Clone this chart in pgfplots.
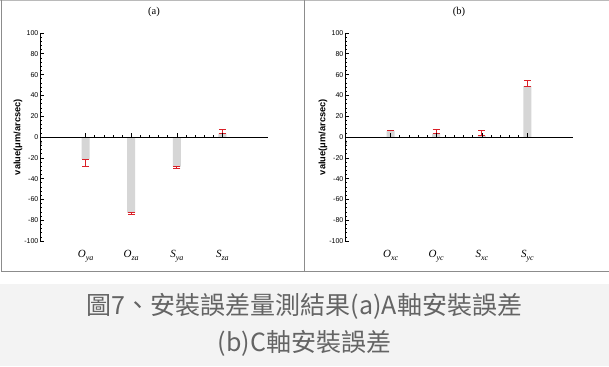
\documentclass[border=0pt]{standalone}
\usepackage{pgfplots}
\usepackage{pgfplotstable}
\pgfplotsset{compat=1.18}
\usepackage{fontspec}
\setmainfont{Liberation Sans}
\newfontfamily\seriffont{Liberation Serif}
\newfontfamily\cjk{Noto Sans CJK TC}
\definecolor{bargray}{RGB}{214,214,214}
\definecolor{errred}{RGB}{218,32,40}
\definecolor{framegray}{RGB}{140,140,140}
\definecolor{capbg}{RGB}{243,243,243}
\definecolor{captext}{RGB}{100,100,100}

\newcommand{\cat}[2]{{\seriffont\itshape #1\raisebox{-2.2pt}{\fontsize{8}{9}\selectfont #2}}}

\pgfplotstableread{
x v ep em
1 -21.3 0 6.8
2 -72.6 0 1.9
3 -28.4 0 2.2
4 3.2 3.6 0
}\dataA
\pgfplotstableread{
x v ep em
1 5.8 0.9 0
2 2.9 4.2 0
3 1.3 4.5 0
4 49.0 5.8 0
}\dataB

\pgfplotsset{
  panel/.style={
    scale only axis, width=228pt, height=208pt,
    anchor=south west,
    xmin=0, xmax=5, ymin=-100, ymax=100,
    axis x line=middle, axis y line=left,
    axis line style={-, black, line width=1pt},
    axis on top,
    xtick={1,2,3,4}, minor x tick num=4,
    ytick={-100,-80,...,100}, minor y tick num=4,
    tick align=inside,
    major tick length=4pt, minor tick length=2pt,
    every tick/.style={black, line width=0.6pt},
    /pgf/number format/assume math mode=true,
    yticklabel style={font=\fontsize{7}{8}\selectfont, inner sep=1.5pt},
    xticklabel style={font=\fontsize{11}{12}\selectfont, yshift=-110pt},
    ylabel={\textbf{value(μm/arcsec)}},
    every axis y label/.style={at={(axis description cs:0,0.5)}, xshift=-22pt, rotate=90, anchor=center, font=\fontsize{9.3}{11}\selectfont},
    every axis title/.style={at={(axis description cs:0.5,1)}, yshift=21pt, anchor=center, font=\seriffont\fontsize{10.5}{12}\selectfont},
  },
  barplot/.style={
    ybar, bar width=8pt, bar shift=0pt, fill=bargray, draw=none,
    error bars/.cd, y dir=both, y explicit,
    error bar style={errred, line width=0.8pt},
    error mark options={errred, line width=1pt, mark size=3.5pt, rotate=90},
  },
}

\begin{document}
\begin{tikzpicture}[x=1pt,y=1pt]
\useasboundingbox (0,0) rectangle (609,-366);
\fill[white] (0,0) rectangle (609,-366);
% caption box
\fill[capbg] (0,-284) rectangle (609,-366);
% frames
\draw[framegray!60, line width=1.2pt] (0,-0.6) -- (609,-0.6);
\draw[framegray, line width=0.8pt] (1,0) -- (1,-271) -- (609,-271);
\draw[framegray, line width=0.8pt] (304,0) -- (304,-271);

\begin{axis}[panel, at={(40pt,-241pt)}, title={(a)},
  xticklabels={\cat{O}{ya},\cat{O}{za},\cat{S}{ya},\cat{S}{za}}]
\addplot[barplot] table[x=x, y=v, y error plus=ep, y error minus=em] {\dataA};
\node[font=\fontsize{7}{8}\selectfont, text=black!60] at (axis cs:0,-5.5) {0};
\end{axis}

\begin{axis}[panel, at={(345pt,-241pt)}, title={(b)},
  xticklabels={\cat{O}{xc},\cat{O}{yc},\cat{S}{xc},\cat{S}{yc}}]
\addplot[barplot] table[x=x, y=v, y error plus=ep, y error minus=em] {\dataB};
\node[font=\fontsize{7}{8}\selectfont, text=black!60] at (axis cs:0,-5.5) {0};
\end{axis}

\node[text=captext, font=\cjk\fontsize{25}{28}\selectfont] at (304.5,-306.5) {圖7、安裝誤差量測結果(a)A軸安裝誤差};
\node[text=captext, font=\cjk\fontsize{25}{28}\selectfont] at (304.5,-343.5) {(b)C軸安裝誤差};
\end{tikzpicture}
\end{document}
